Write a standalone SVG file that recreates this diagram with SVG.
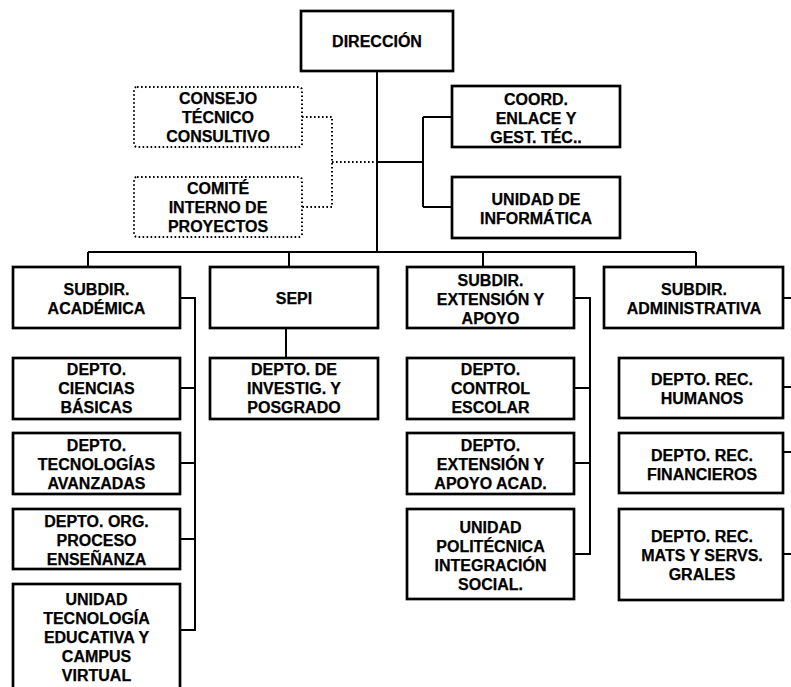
<svg xmlns="http://www.w3.org/2000/svg" width="791" height="687" viewBox="0 0 791 687">
<style>
.box{fill:#fff;stroke:#000;stroke-width:2.7}
.dbox{fill:#fff;stroke:#000;stroke-width:2;stroke-dasharray:1.6 2.4}
.ln{fill:none;stroke:#000;stroke-width:2}
.dl{fill:none;stroke:#000;stroke-width:2;stroke-dasharray:1.6 2.4}
text{font-family:"Liberation Sans",Arial,sans-serif;font-weight:bold;font-size:16px;text-anchor:middle;fill:#000;stroke:#000;stroke-width:0.25}
</style>
<rect width="791" height="687" fill="#fff"/>
<g id="connectors">
<path class="ln" d="M377,71V252M88,252H696M88,252V267M289,252V267M483,252V267M696,252V267"/>
<path class="ln" d="M377,162H423M423,117V207M423,117H452M423,207H452"/>
<path class="dl" d="M302,117H332V207H302M332,162H377"/>
<path class="ln" d="M286,328V358"/>
<path class="ln" d="M180,298H195V630H180M180,388H195M180,463H195M180,539H195"/>
<path class="ln" d="M574,298H590V554H574M574,388H590M574,463H590"/>
<path class="ln" d="M783,298H791M783,387H791M783,452H791M783,554H791"/>
</g>
<g id="direccion"><rect class="box" x="301" y="11" width="152" height="60"/><text x="377" y="47">DIRECCIÓN</text></g>
<g id="consejo"><rect class="dbox" x="134" y="87" width="168" height="60" rx="3"/><text x="218" y="104">CONSEJO</text><text x="218" y="123">TÉCNICO</text><text x="218" y="142">CONSULTIVO</text></g>
<g id="comite"><rect class="dbox" x="134" y="177" width="168" height="60" rx="3"/><text x="218" y="194">COMITÉ</text><text x="218" y="213">INTERNO DE</text><text x="218" y="232">PROYECTOS</text></g>
<g id="coord"><rect class="box" x="452" y="86" width="168" height="61"/><text x="536" y="104.5">COORD.</text><text x="536" y="123.5">ENLACE Y</text><text x="536" y="142.5">GEST. TÉC..</text></g>
<g id="informatica"><rect class="box" x="452" y="177" width="168" height="61"/><text x="536" y="204.5">UNIDAD DE</text><text x="536" y="223.5">INFORMÁTICA</text></g>
<g id="subdir-academica"><rect class="box" x="13" y="267" width="167" height="61"/><text x="96.5" y="295">SUBDIR.</text><text x="96.5" y="314">ACADÉMICA</text></g>
<g id="sepi"><rect class="box" x="210" y="267" width="168" height="61"/><text x="294" y="303.5">SEPI</text></g>
<g id="subdir-extension"><rect class="box" x="407" y="267" width="167" height="61"/><text x="490.5" y="286">SUBDIR.</text><text x="490.5" y="305">EXTENSIÓN Y</text><text x="490.5" y="324">APOYO</text></g>
<g id="subdir-administrativa"><rect class="box" x="604" y="267" width="179" height="61"/><text x="694" y="295">SUBDIR.</text><text x="694" y="314">ADMINISTRATIVA</text></g>
<g id="ciencias"><rect class="box" x="13" y="358" width="167" height="61"/><text x="96.5" y="375">DEPTO.</text><text x="96.5" y="394">CIENCIAS</text><text x="96.5" y="413">BÁSICAS</text></g>
<g id="investig"><rect class="box" x="210" y="358" width="168" height="61"/><text x="294" y="375">DEPTO. DE</text><text x="294" y="394">INVESTIG. Y</text><text x="294" y="413">POSGRADO</text></g>
<g id="tecnologias"><rect class="box" x="13" y="433" width="167" height="61"/><text x="96.5" y="451">DEPTO.</text><text x="96.5" y="470">TECNOLOGÍAS</text><text x="96.5" y="489">AVANZADAS</text></g>
<g id="org-proceso"><rect class="box" x="13" y="509" width="167" height="60"/><text x="96.5" y="527">DEPTO. ORG.</text><text x="96.5" y="546">PROCESO</text><text x="96.5" y="565">ENSEÑANZA</text></g>
<g id="tec-educativa"><rect class="box" x="13" y="584" width="167" height="110"/><text x="96.5" y="605">UNIDAD</text><text x="96.5" y="624">TECNOLOGÍA</text><text x="96.5" y="643">EDUCATIVA Y</text><text x="96.5" y="662">CAMPUS</text><text x="96.5" y="681">VIRTUAL</text></g>
<g id="control-escolar"><rect class="box" x="407" y="358" width="167" height="61"/><text x="490.5" y="375">DEPTO.</text><text x="490.5" y="394">CONTROL</text><text x="490.5" y="413">ESCOLAR</text></g>
<g id="extension-apoyo"><rect class="box" x="407" y="433" width="167" height="61"/><text x="490.5" y="451">DEPTO.</text><text x="490.5" y="470">EXTENSIÓN Y</text><text x="490.5" y="489">APOYO ACAD.</text></g>
<g id="politecnica"><rect class="box" x="407" y="509" width="167" height="90"/><text x="490.5" y="533">UNIDAD</text><text x="490.5" y="552">POLITÉCNICA</text><text x="490.5" y="571">INTEGRACIÓN</text><text x="490.5" y="590">SOCIAL.</text></g>
<g id="rec-humanos"><rect class="box" x="619" y="358" width="164" height="60"/><text x="702" y="385">DEPTO. REC.</text><text x="702" y="404">HUMANOS</text></g>
<g id="rec-financieros"><rect class="box" x="619" y="433" width="164" height="60"/><text x="702" y="461">DEPTO. REC.</text><text x="702" y="480">FINANCIEROS</text></g>
<g id="rec-mats"><rect class="box" x="619" y="509" width="164" height="91"/><text x="702" y="542">DEPTO. REC.</text><text x="702" y="561">MATS Y SERVS.</text><text x="702" y="580">GRALES</text></g>
</svg>
